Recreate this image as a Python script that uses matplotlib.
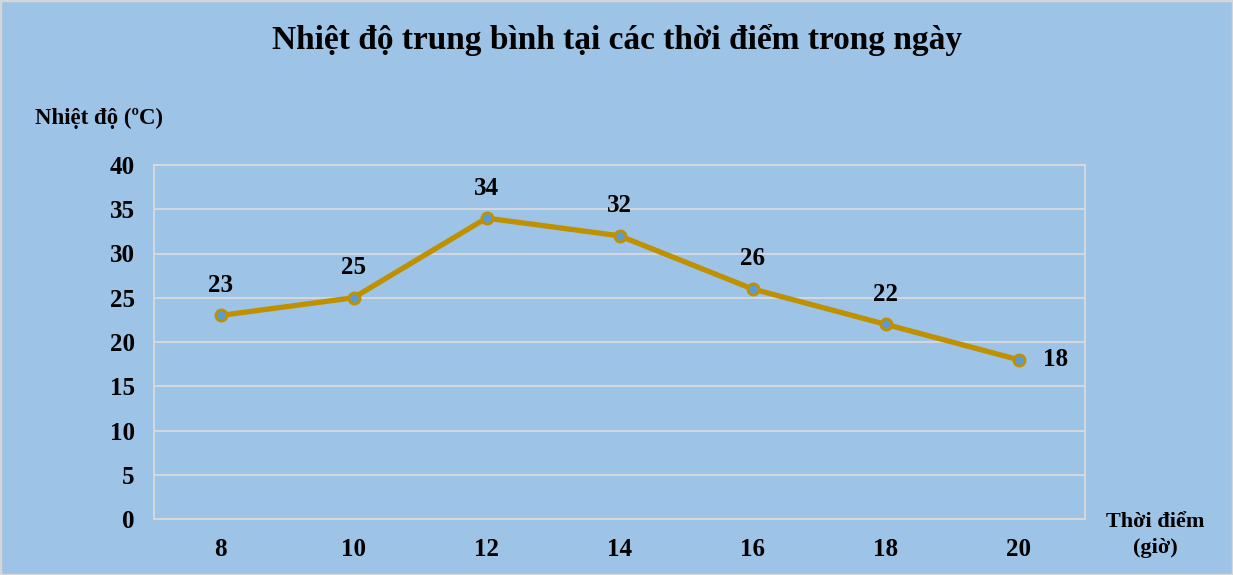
import matplotlib
matplotlib.use("Agg")
import matplotlib.pyplot as plt
from matplotlib.patches import Rectangle

hours = ["8", "10", "12", "14", "16", "18", "20"]
temps = [23, 25, 34, 32, 26, 22, 18]
yticks = [0, 5, 10, 15, 20, 25, 30, 35, 40]

plt.rcParams['font.family'] = ['Liberation Serif', 'DejaVu Serif']
plt.rcParams['font.weight'] = 'bold'

bg = '#9DC3E6'
W, H = 1233, 575
fig = plt.figure(figsize=(W/100, H/100), dpi=100, facecolor=bg)
fig.patches.append(Rectangle((0, 0), 1, 1, transform=fig.transFigure,
                             fill=False, edgecolor='#D6D6D6', linewidth=2.5))

x0, x1 = 154, 1085
y0, y1 = 165, 519
ax = fig.add_axes([x0/W, 1 - y1/H, (x1-x0)/W, (y1-y0)/H])
ax.set_facecolor(bg)

xs = list(range(len(hours)))
ax.plot(xs, temps, color='#BF9000', linewidth=3.8, marker='o', markersize=8,
        markerfacecolor='#5B9BD5', markeredgecolor='#BF9000', markeredgewidth=2, zorder=3)

for i, v in enumerate(temps):
    if i == len(temps) - 1:
        ax.annotate(str(v), (i, v), xytext=(37, 0), textcoords='offset pixels',
                    ha='center', va='center', fontsize=18, fontweight='bold')
    else:
        ax.annotate(str(v), (i, v), xytext=(0, 30), textcoords='offset pixels',
                    ha='center', va='center', fontsize=18, fontweight='bold')

ax.set_xlim(-0.5, len(hours) - 0.5)
ax.set_ylim(0, 40)
ax.set_yticks(yticks)
ax.set_yticklabels([str(t) for t in yticks], fontsize=18, fontweight='bold')
ax.set_xticks(xs)
ax.set_xticklabels(hours, fontsize=18, fontweight='bold')
ax.tick_params(length=0)
ax.tick_params(axis='x', pad=14)
ax.tick_params(axis='y', pad=14)
ax.grid(axis='y', color='#D9D9D9', linewidth=1.3)
ax.set_axisbelow(True)
for s in ax.spines.values():
    s.set_color('#D9D9D9')
    s.set_linewidth(1.3)

fig.text(617/W, 1 - 40/H, "Nhiệt độ trung bình tại các thời điểm trong ngày",
         ha='center', va='center', fontsize=24, fontweight='bold')
fig.text(99/W, 1 - 118/H, "Nhiệt độ (ºC)", ha='center', va='center',
         fontsize=16.5, fontweight='bold')
fig.text(1155/W, 1 - 535/H, "Thời điểm\n(giờ)", ha='center', va='center',
         fontsize=16, fontweight='bold', linespacing=1.35)

fig.savefig("out.png", dpi=100, facecolor=bg)
